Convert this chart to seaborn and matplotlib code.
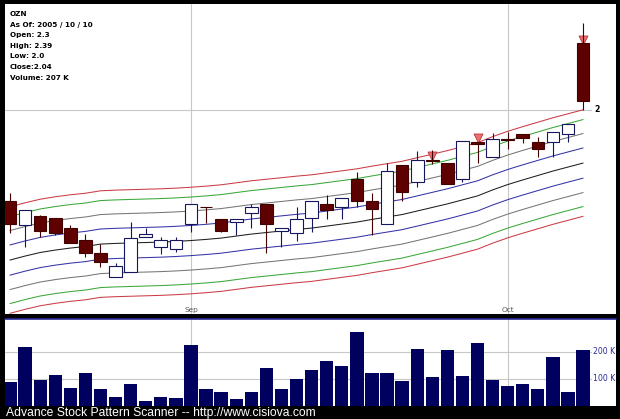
import numpy as np
import pandas as pd
import matplotlib
import matplotlib.pyplot as plt
import matplotlib.transforms as mtransforms
from matplotlib.patches import Rectangle
from matplotlib.lines import Line2D
import seaborn as sns

sns.set_theme(style="white")
plt.rcParams['font.family'] = ['DejaVu Sans']

# OZN daily bars, 2005-08-16 .. 2005-10-10
open_ = [1.590, 1.482, 1.523, 1.512, 1.470, 1.414, 1.357, 1.249, 1.269, 1.427,
         1.384, 1.373, 1.486, 1.563, 1.510, 1.497, 1.537, 1.578, 1.455, 1.447,
         1.512, 1.577, 1.562, 1.689, 1.590, 1.485, 1.754, 1.677, 1.774, 1.763,
         1.688, 1.857, 1.790, 1.869, 1.892, 1.856, 1.857, 1.891, 2.30]
high = [1.627, 1.550, 1.525, 1.515, 1.482, 1.441, 1.396, 1.312, 1.494, 1.467,
        1.427, 1.427, 1.577, 1.563, 1.510, 1.510, 1.577, 1.578, 1.468, 1.562,
        1.590, 1.617, 1.604, 1.719, 1.627, 1.763, 1.754, 1.817, 1.820, 1.763,
        1.860, 1.857, 1.895, 1.902, 1.892, 1.880, 1.902, 1.936, 2.39]
low = [1.446, 1.384, 1.428, 1.437, 1.400, 1.338, 1.294, 1.249, 1.269, 1.427,
       1.351, 1.360, 1.452, 1.492, 1.452, 1.437, 1.467, 1.355, 1.382, 1.411,
       1.452, 1.509, 1.509, 1.562, 1.437, 1.485, 1.592, 1.652, 1.755, 1.665,
       1.677, 1.763, 1.790, 1.823, 1.850, 1.787, 1.790, 1.857, 2.00]
close = [1.486, 1.550, 1.456, 1.445, 1.400, 1.357, 1.314, 1.296, 1.425, 1.440,
         1.413, 1.413, 1.577, 1.562, 1.456, 1.510, 1.563, 1.485, 1.468, 1.510,
         1.590, 1.550, 1.604, 1.590, 1.553, 1.727, 1.631, 1.775, 1.772, 1.665,
         1.860, 1.847, 1.868, 1.867, 1.873, 1.823, 1.902, 1.936, 2.04]
volume_k = [90, 220, 96, 114, 68, 122, 64, 34, 83, 20, 33, 31, 227, 64, 52, 26,
            52, 140, 62, 100, 132, 165, 147, 274, 123, 123, 94, 210, 107, 207,
            111, 233, 96, 75, 81, 63, 183, 53, 207]

# middle line of the band set, and the band offsets (inner -> outer)
ma_mid = [1.324, 1.342, 1.358, 1.369, 1.378, 1.385, 1.396, 1.399, 1.401, 1.403,
          1.405, 1.408, 1.412, 1.417, 1.423, 1.432, 1.441, 1.448, 1.455, 1.462,
          1.468, 1.477, 1.486, 1.495, 1.507, 1.518, 1.529, 1.545, 1.561, 1.577,
          1.595, 1.613, 1.640, 1.664, 1.685, 1.705, 1.725, 1.743, 1.761]
band_offsets = [0.068, 0.133, 0.196, 0.240]
band_colors = ["#3434a6", "#767676", "#3aa83a", "#cc3c44"]

signal_bars = [28, 31, 38]
month_pos = [12, 33]
month_labels = ["Sep", "Oct"]
price_ticks = [2.0]
price_tick_labels = ["2"]
vol_ticks = [100, 200]
vol_tick_labels = ["100 K", "200 K"]

info = ["OZN", "As Of: 2005 / 10 / 10", "Open: 2.3", "High: 2.39",
        "Low: 2.0", "Close:2.04", "Volume: 207 K"]
footer = "Advance Stock Pattern Scanner -- http://www.cisiova.com"

df = pd.DataFrame({"open": open_, "high": high, "low": low, "close": close,
                   "vol": volume_k, "mid": ma_mid})
df["i"] = np.arange(len(df))
df["up"] = df["close"] > df["open"]

W, H = 620, 419
grid_c = "#c8c8c8"
up_edge, dn_face, dn_edge = "#16165c", "#5e0000", "#420000"


def box(x0, y0, x1, y1):
    return [x0 / W, 1 - y1 / H, (x1 - x0) / W, (y1 - y0) / H]


fig = plt.figure(figsize=(6.2, 4.19), dpi=100, facecolor="black")
for b in [box(5, 4, 616, 314), box(5, 319, 616, 406)]:
    fig.patches.append(Rectangle((b[0], b[1]), b[2], b[3], transform=fig.transFigure,
                                 facecolor="white", edgecolor="none", zorder=-1))
fig.add_artist(Line2D([5 / W, 616 / W], [1 - 318.5 / H] * 2, color="#2a2a9a", lw=1.2))

ax = fig.add_axes(box(5, 4, 592, 314))
axv = fig.add_axes(box(5, 319, 592, 406))
for a in (ax, axv):
    a.set_facecolor("white")
    for s in a.spines.values():
        s.set_visible(False)
    for m in month_pos:
        a.axvline(m, color=grid_c, lw=0.8, zorder=0)

# price panel
for p in price_ticks:
    ax.axhline(p, color=grid_c, lw=0.8, zorder=0)

sns.lineplot(x=df["i"], y=df["mid"], ax=ax, color="#1e1e1e", lw=0.75, zorder=1)
for off, c in zip(band_offsets, band_colors):
    sns.lineplot(x=df["i"], y=df["mid"] + off, ax=ax, color=c, lw=0.75, zorder=1)
    sns.lineplot(x=df["i"], y=df["mid"] - off, ax=ax, color=c, lw=0.75, zorder=1)

wick_c = [up_edge if u else dn_edge for u in df["up"]]
ax.vlines(df["i"], df["low"], df["high"], colors=wick_c, lw=0.8, zorder=2)

sig = df.loc[signal_bars]
tri_tr = mtransforms.offset_copy(ax.transData, fig=fig, y=2.8, units="points")
ax.scatter(sig["i"], sig[["open", "close"]].max(axis=1), marker="v", s=42,
           color="#ec6e70", edgecolor="#b83838", linewidth=0.6,
           transform=tri_tr, zorder=1.9)

body_lo = df[["open", "close"]].min(axis=1)
body_h = (df["open"] - df["close"]).abs()
ax.bar(df["i"], body_h, bottom=body_lo, width=0.84,
       color=["white" if u else dn_face for u in df["up"]],
       edgecolor=[up_edge if u else dn_edge for u in df["up"]],
       linewidth=0.8, zorder=3)

ax.set_xlim(-0.33, 38.59)
ax.set_ylim(1.081, 2.4775)
ax.set_xticks([])
ax.set_yticks([])
ax.set_xlabel("")
ax.set_ylabel("")

lbl_tr = mtransforms.blended_transform_factory(ax.transData, ax.transAxes)
for m, t in zip(month_pos, month_labels):
    ax.text(m, 0.0145, t, transform=lbl_tr, ha="center", va="center",
            fontsize=5.3, color="#555555")
ytr = mtransforms.blended_transform_factory(ax.transAxes, ax.transData)
for p, t in zip(price_ticks, price_tick_labels):
    ax.text(1.0094, p, t, transform=ytr, ha="center", va="center",
            fontsize=5.6, fontweight="bold", color="black", clip_on=False)

for k, line in enumerate(info):
    fig.text(10 / W, 1 - (14.5 + 10.5 * k) / H, line, ha="left", va="center",
             fontsize=5.2, fontweight="bold", color="black")

# volume panel
for v in vol_ticks:
    axv.axhline(v, color=grid_c, lw=0.8, zorder=0)
sns.barplot(x=df["i"], y=df["vol"], ax=axv, native_scale=True, width=0.88,
            color="#00005f", saturation=1, errorbar=None, edgecolor="none", zorder=2)
axv.set_xlim(-0.33, 38.59)
axv.set_ylim(0, 322)
axv.set_xticks([])
axv.set_yticks([])
axv.set_xlabel("")
axv.set_ylabel("")
vtr = mtransforms.blended_transform_factory(axv.transAxes, axv.transData)
for v, t in zip(vol_ticks, vol_tick_labels):
    axv.text(1.002, v, t, transform=vtr, ha="left", va="center",
             fontsize=5.6, color="#2a2a9a", clip_on=False)

fig.text(6 / W, 1 - 412.5 / H, footer, ha="left", va="center",
         fontsize=8.7, color="white", family=["Liberation Sans", "DejaVu Sans"])

fig.savefig("out.png", dpi=100, facecolor="black")
